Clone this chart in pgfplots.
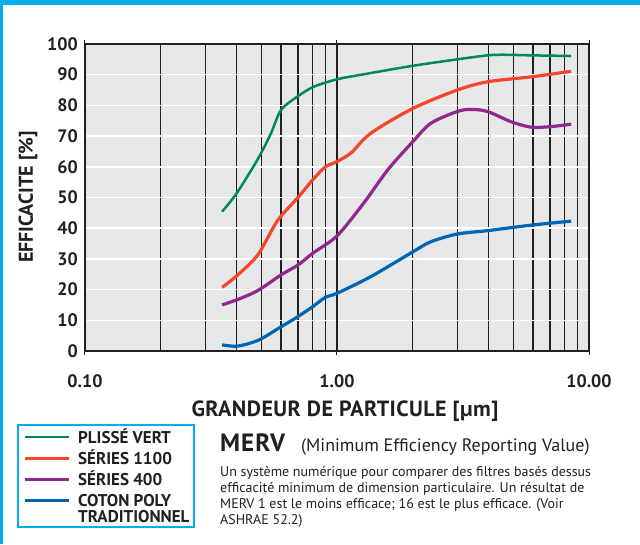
\documentclass[border=0pt]{standalone}
\usepackage{fontspec}
\setmainfont{PT Sans}
\usepackage{pgfplots}
\pgfplotsset{compat=1.18}
\definecolor{cyanb}{HTML}{00AEEF}
\definecolor{plotgrey}{HTML}{E6E7E8}
\definecolor{axisdark}{HTML}{231F20}
\definecolor{cgreen}{HTML}{00875A}
\definecolor{cred}{HTML}{F4472A}
\definecolor{cpurple}{HTML}{92278F}
\definecolor{cblue}{HTML}{0066B3}
\begin{document}
\begin{tikzpicture}
\useasboundingbox (0,0) rectangle (640pt,544pt);
\fill[white] (0,0) rectangle (640pt,544pt);
\fill[cyanb] (0,538.7pt) rectangle (640pt,544pt);
\fill[cyanb] (0,0) rectangle (3pt,544pt);
\begin{axis}[
  at={(85pt,193pt)}, anchor=south west,
  scale only axis, width=504pt, height=307pt,
  xmode=log, xmin=0.1, xmax=10, ymin=0, ymax=100,
  axis background/.style={fill=plotgrey},
  axis line style={axisdark, line width=1.2pt},
  xtick={0.2,0.3,0.4,0.5,0.6,0.7,0.8,0.9,1,2,3,4,5,6,7,8,9},
  xticklabels={,,,,,,,,,,,,,,,,},
  xminorticks=false,
  xmajorgrids=true,
  major grid style={axisdark, line width=1.2pt},
  major tick length=0pt,
  extra x ticks={0.1,1,10},
  extra x tick labels={0.10,1.00,10.00},
  extra x tick style={major tick length=4pt, tick align=outside, tick style={axisdark, line width=1pt}},
  ytick={0,10,20,30,40,50,60,70,80,90,100},
  yticklabels={0,10,20,30,40,50,60,70,80,90,100},
  minor ytick={10,20,30,40,50,60,70,80,90},
  yminorgrids=true,
  minor grid style={white, line width=1.5pt},
  minor tick length=0pt,
  ticklabel style={font=\bfseries\fontsize{18}{18}\selectfont, text=axisdark, inner sep=0pt},
  yticklabel style={anchor=east, xshift=-7pt},
  xticklabel style={anchor=north, yshift=-19pt},
  legend cell align=left,
  legend image code/.code={\draw[#1] (0pt,6pt)--(44pt,6pt);},
  legend style={at={(-0.1349,-0.2378)}, anchor=north west, draw=cyanb, line width=2pt, fill=white,
    inner xsep=5pt, inner ysep=3pt, row sep=4.7pt, column sep=8pt,
    cells={anchor=base west},
    nodes={inner sep=0pt, text=axisdark, font=\bfseries\fontsize{17}{14}\selectfont}},
]
\addplot[cgreen, line width=2.5pt, smooth, tension=0.5] coordinates {
(0.35,45.4) (0.40,51.4) (0.485,62.5) (0.547,70.9) (0.60,78.5) (0.70,83) (0.81,86.1) (1.0,88.5) (1.25,90) (2.0,92.9) (3.0,95) (3.96,96.3) (4.6,96.5) (5.9,96.3) (8.5,96.1)};
\addlegendentry{\rule{0pt}{15pt}PLISSÉ VERT}
\addplot[cred, line width=3.2pt, smooth, tension=0.5] coordinates {
(0.35,20.7) (0.404,24.8) (0.485,31.3) (0.58,42.4) (0.70,50) (0.80,55.7) (0.90,60) (1.0,61.7) (1.14,64.6) (1.36,70.9) (2.0,79) (3.0,85) (3.96,87.7) (5.9,89.3) (8.5,91.1)};
\addlegendentry{\rule{0pt}{15pt}SÉRIES 1100}
\addplot[cpurple, line width=3.2pt, smooth, tension=0.5] coordinates {
(0.35,15) (0.416,17.2) (0.49,19.9) (0.60,24.8) (0.70,28) (0.80,31.8) (1.0,37.5) (1.28,48.3) (1.59,59) (2.0,68.2) (2.36,74.2) (3.0,78) (3.4,78.7) (3.96,78) (4.9,74.7) (5.9,72.9) (7.07,73.1) (8.5,73.9)};
\addlegendentry{\rule{0pt}{15pt}SÉRIES 400}
\addplot[cblue, line width=3.2pt, smooth, tension=0.5] coordinates {
(0.35,2) (0.404,1.6) (0.49,3.6) (0.60,7.9) (0.70,11.2) (0.80,14.4) (0.90,17.5) (1.0,18.8) (1.36,24.2) (2.0,32.3) (2.36,35.6) (3.0,38.1) (3.96,39.2) (5.9,41) (8.5,42.3)};
\addlegendentry{\rule{0pt}{15pt}COTON POLY}
\addlegendimage{empty legend}
\addlegendentry{\raisebox{0pt}[9.3pt][4pt]{TRADITIONNEL}}
\end{axis}
\node[rotate=90, inner sep=0pt, text=axisdark, font=\bfseries\fontsize{20}{20}\selectfont] at (28pt,347pt) {EFFICACITE [\%]};
\node[inner sep=0pt, text=axisdark, font=\bfseries\fontsize{22}{22}\selectfont\addfontfeatures{LetterSpace=2}] at (345pt,133pt) {GRANDEUR DE PARTICULE [µm]};
\node[anchor=base west, inner sep=0pt, text=axisdark, font=\bfseries\fontsize{25}{25}\selectfont\addfontfeatures{LetterSpace=4}] at (220pt,92.3pt) {MERV};
\node[anchor=base west, inner sep=0pt, text=axisdark, font=\fontsize{18}{18}\selectfont] at (301pt,92.3pt) {(Minimum Efficiency Reporting Value)};
\node[anchor=base west, inner sep=0pt, text=axisdark, font=\fontsize{14}{14}\selectfont] at (220pt,67.3pt) {Un système numérique pour comparer des filtres basés dessus};
\node[anchor=base west, inner sep=0pt, text=axisdark, font=\fontsize{14}{14}\selectfont] at (220pt,51.4pt) {efficacité minimum de dimension particulaire. Un résultat de};
\node[anchor=base west, inner sep=0pt, text=axisdark, font=\fontsize{14}{14}\selectfont] at (220pt,35.5pt) {MERV 1 est le moins efficace; 16 est le plus efficace. (Voir};
\node[anchor=base west, inner sep=0pt, text=axisdark, font=\fontsize{14}{14}\selectfont] at (220pt,19.6pt) {ASHRAE 52.2)};
\end{tikzpicture}
\end{document}
